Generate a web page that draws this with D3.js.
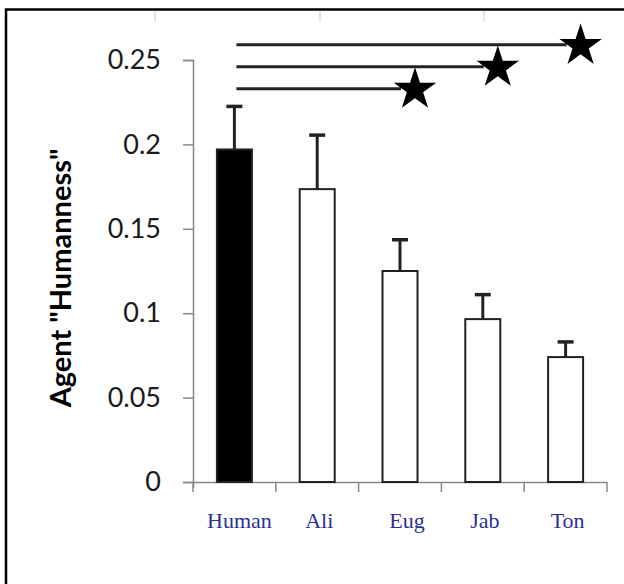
<!DOCTYPE html>
<html>
<head>
<meta charset="utf-8">
<script src="https://d3js.org/d3.v7.min.js"></script>
<style>
body { margin: 0; background: #fff; }
</style>
</head>
<body>
<script>
var width = 624, height = 584;

var agents = ["Human", "Ali", "Eug", "Jab", "Ton"];
var humanness = [0.197, 0.1735, 0.125, 0.0965, 0.074];
var errTop = [0.2225, 0.2055, 0.1435, 0.111, 0.083];
var yTicks = [0, 0.05, 0.1, 0.15, 0.2, 0.25];
var sigTargets = ["Eug", "Jab", "Ton"];
var sigLevels = [0.233, 0.246, 0.259];

var svg = d3.select("body").append("svg")
  .attr("width", width).attr("height", height);

// frame of the figure panel
svg.append("path")
  .attr("d", "M6,600 L6,9.5 L640,9.5")
  .attr("fill", "none").attr("stroke", "#000").attr("stroke-width", 2.5);
[155, 320, 484].forEach(function(x) {
  svg.append("line").attr("x1", x).attr("x2", x).attr("y1", 11).attr("y2", 22)
    .attr("stroke", "#ddd").attr("stroke-width", 1.5);
});

var x = d3.scaleBand().domain(agents).range([193, 607]).paddingInner(0);
var y = d3.scaleLinear().domain([0, 0.25]).range([482, 60]);

var yAxis = svg.append("g").attr("transform", "translate(193,0)")
  .call(d3.axisLeft(y).tickValues(yTicks).tickSize(10).tickPadding(22)
    .tickFormat(function(d) { return d === 0 ? "0" : String(+d.toFixed(2)); }));
yAxis.select(".domain").attr("d", "M-10,60.5H0.5V488").attr("stroke", "#888").attr("stroke-width", 1.5);
yAxis.selectAll(".tick line").attr("stroke", "#888").attr("stroke-width", 1.5);
yAxis.selectAll(".tick text").attr("font-family", "Lato, 'Open Sans', sans-serif")
  .attr("font-size", 27).attr("fill", "#1a1a1a");

var xAxis = svg.append("g").attr("transform", "translate(0,482)")
  .call(d3.axisBottom(x).tickValues([]).tickSize(0));
xAxis.select(".domain").attr("d", "M183,0.5H607").attr("stroke", "#888").attr("stroke-width", 1.5);
var edges = agents.map(function(a) { return x(a); }).concat([x.range()[1]]);
xAxis.selectAll(".edge").data(edges).enter().append("line")
  .attr("x1", function(d) { return d; }).attr("x2", function(d) { return d; })
  .attr("y1", 0).attr("y2", 10).attr("stroke", "#888").attr("stroke-width", 1.5);

svg.append("g").selectAll("text").data(agents).enter().append("text")
  .attr("x", function(d, i) { return x(d) + x.bandwidth() / 2 + (i === 0 ? 5 : i === 2 ? 7 : 2); })
  .attr("y", 528)
  .attr("text-anchor", "middle")
  .attr("font-family", "'Liberation Serif', 'DejaVu Serif', serif")
  .attr("font-size", 22).attr("fill", "#2b2f96")
  .text(function(d) { return d; });

svg.append("text")
  .attr("transform", "translate(71,278) rotate(-90)")
  .attr("text-anchor", "middle")
  .attr("font-family", "Lato, 'Open Sans', sans-serif")
  .attr("font-weight", "bold").attr("font-size", 29).attr("fill", "#000")
  .text("Agent \"Humanness\"");

var bw = 35;
var cx = function(d) { return x(d) + x.bandwidth() / 2; };

// error bars
var eb = svg.append("g").selectAll("g").data(agents).enter().append("g");
eb.append("line")
  .attr("x1", cx).attr("x2", cx)
  .attr("y1", function(d, i) { return y(humanness[i]); })
  .attr("y2", function(d, i) { return y(errTop[i]); })
  .attr("stroke", "#222").attr("stroke-width", 3);
eb.append("line")
  .attr("x1", function(d) { return cx(d) - 8; }).attr("x2", function(d) { return cx(d) + 8; })
  .attr("y1", function(d, i) { return y(errTop[i]); })
  .attr("y2", function(d, i) { return y(errTop[i]); })
  .attr("stroke", "#222").attr("stroke-width", 3.5);

svg.append("g").selectAll("rect").data(agents).enter().append("rect")
  .attr("x", function(d) { return cx(d) - bw / 2; })
  .attr("y", function(d, i) { return y(humanness[i]); })
  .attr("width", bw)
  .attr("height", function(d, i) { return y(0) - y(humanness[i]); })
  .attr("fill", function(d, i) { return i === 0 ? "#000" : "#fff"; })
  .attr("stroke", "#222").attr("stroke-width", 2);

// significance brackets
var star = d3.symbol().type(d3.symbolStar).size(560);
var sig = svg.append("g").selectAll("g").data(sigTargets).enter().append("g");
sig.append("line")
  .attr("x1", cx(agents[0]) + 2)
  .attr("x2", function(d) { return cx(d) + 1; })
  .attr("y1", function(d, i) { return y(sigLevels[i]); })
  .attr("y2", function(d, i) { return y(sigLevels[i]); })
  .attr("stroke", "#222").attr("stroke-width", 3);
sig.append("path")
  .attr("d", star)
  .attr("transform", function(d, i) {
    return "translate(" + (cx(d) + 15) + "," + (y(sigLevels[i]) + 1) + ")";
  })
  .attr("fill", "#000");
</script>
</body>
</html>
